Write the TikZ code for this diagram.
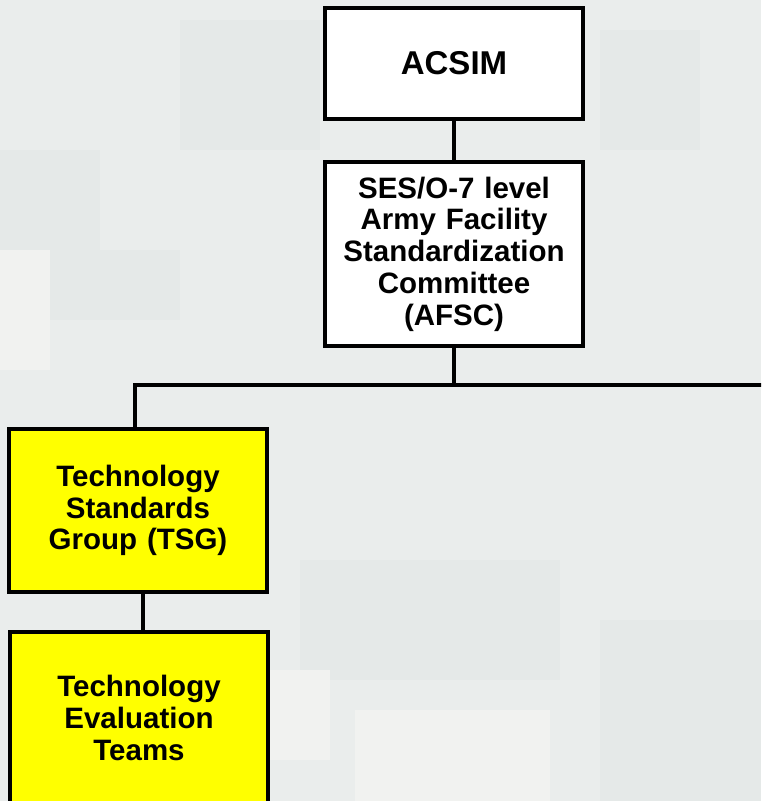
\documentclass[tikz,border=0pt]{standalone}
\usepackage{fontspec}
\setmainfont{Liberation Sans}
\usepackage{tikz}
\usetikzlibrary{positioning}

\definecolor{camobase}{HTML}{EAEDEC}
\definecolor{camolight}{HTML}{F1F2F0}
\definecolor{camodark}{HTML}{E5E9E8}
\definecolor{boxyellow}{HTML}{FFFF00}

\tikzset{
  orgbox/.style={draw=black, line width=3.5pt, fill=white, inner sep=0pt,
    minimum width=258pt, align=center, text width=250pt,
    font=\fontsize{29.5}{31.7}\selectfont\bfseries},
  tsgbox/.style={orgbox, fill=boxyellow},
  orgline/.style={draw=black, line width=4pt}
}

\begin{document}
\begin{tikzpicture}[x=1pt,y=-1pt]
\useasboundingbox (0,0) rectangle (761,801);
\clip (0,0) rectangle (761,801);

% background
\fill[camobase] (0,0) rectangle (761,801);
\fill[camodark] (180,20) rectangle (320,150);
\fill[camodark] (0,150) rectangle (100,260);
\fill[camodark] (50,250) rectangle (180,320);
\fill[camolight] (0,250) rectangle (50,370);
\fill[camodark] (600,30) rectangle (700,150);
\fill[camodark] (300,560) rectangle (560,680);
\fill[camolight] (355,710) rectangle (550,801);
\fill[camolight] (270,670) rectangle (330,760);
\fill[camodark] (600,620) rectangle (761,801);

% boxes
\node[orgbox, minimum height=111pt, font=\fontsize{33}{36}\selectfont\bfseries]
  (acsim) at (454,63.5) {ACSIM};
\node[orgbox, minimum height=184pt] (afsc) at (454,254)
  {SES/O-7 level\\Army Facility\\Standardization\\Committee\\(AFSC)};
\node[tsgbox, minimum height=163pt] (tsg) at (138,510.5)
  {Technology\\Standards\\Group (TSG)};
\node[tsgbox, minimum height=172pt] (tet) at (139,718)
  {Technology\\Evaluation\\Teams};

% bus
\coordinate (busl) at (135,385);
\coordinate (busr) at (770,385);
\coordinate (tsgdrop) at (143,0);

\draw[orgline] (acsim) -- (afsc);
\draw[orgline] (afsc.south) -- (afsc.south |- busl);
\draw[orgline] (busr) -- (busl) -- (tsg.north -| busl);
\draw[orgline] (tsg.south -| tsgdrop) -- (tet.north -| tsgdrop);
\end{tikzpicture}
\end{document}
